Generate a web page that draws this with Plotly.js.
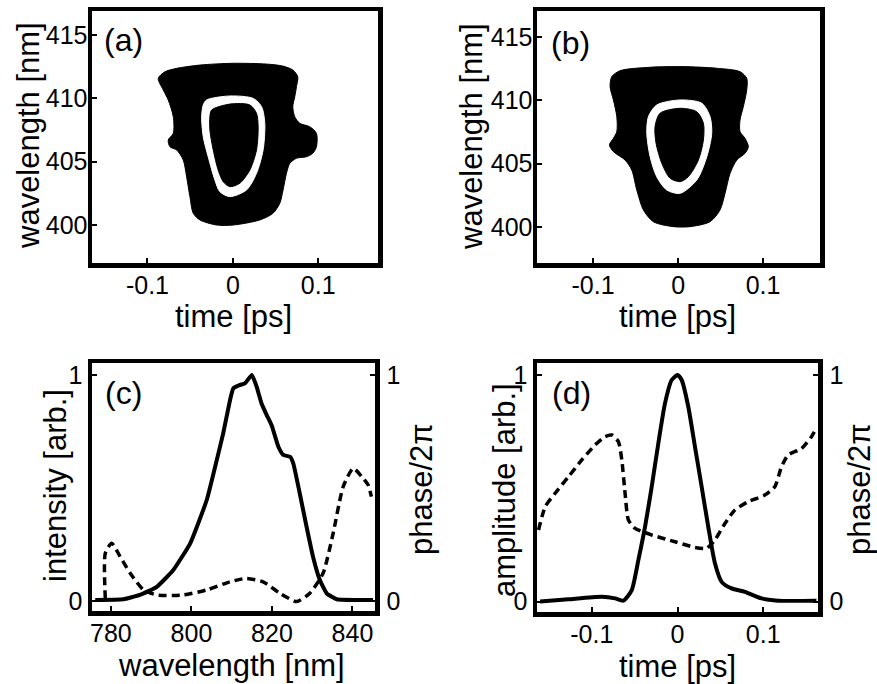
<!DOCTYPE html>
<html>
<head>
<meta charset="utf-8">
<script src="https://cdn.plot.ly/plotly-3.0.1.min.js"></script>
<style>
  html, body { margin: 0; padding: 0; background: #fff; }
  #fig { width: 877px; height: 684px; }
</style>
</head>
<body>
<div id="fig"></div>
<script>
// ---- (a) measured FROG trace: contour outlines (delay in ps, wavelength in nm) ----
const aOuterT  = [-0.0874,-0.0795,-0.0658,-0.0386,0.0,0.0394,0.0585,0.0702,0.0760,0.0745,0.0725,0.0702,0.0725,0.0784,0.0901,0.0979,0.0979,0.0936,0.0862,0.0745,0.0667,0.0628,0.0588,0.0550,0.0471,0.0316,0.0004,-0.0191,-0.0386,-0.0464,-0.0503,-0.0542,-0.0581,-0.0658,-0.0737,-0.0757,-0.0698,-0.0698,-0.0757,-0.0815];
const aOuterWl = [411.58,412.10,412.37,412.63,412.77,412.71,412.55,412.24,411.71,410.92,410.13,409.34,408.55,408.03,407.76,407.24,406.18,405.66,405.39,405.27,404.87,404.08,402.77,401.72,400.93,400.40,400.00,400.00,400.40,400.93,402.24,403.82,405.13,405.92,406.18,406.71,407.24,408.55,409.87,410.66];
const aRingT   = [-0.0308,-0.0035,0.0237,0.0336,0.0374,0.0354,0.0277,0.0160,-0.0035,-0.0152,-0.0211,-0.0289,-0.0347,-0.0366,-0.0347];
const aRingWl  = [409.87,410.19,410.00,409.34,408.03,405.92,404.08,402.77,402.24,402.63,403.56,405.39,406.97,408.55,409.48];
const aCoreT   = [-0.0249,-0.0035,0.0199,0.0277,0.0296,0.0277,0.0199,0.0082,-0.0035,-0.0113,-0.0172,-0.0230,-0.0269,-0.0269];
const aCoreWl  = [409.08,409.55,409.48,408.82,407.76,405.92,404.34,403.30,403.03,403.42,404.34,405.92,407.50,408.55];

// ---- (b) retrieved FROG trace ----
const bOuterT  = [-0.0780,-0.0682,-0.0329,0.0062,0.0455,0.0729,0.0808,0.0808,0.0768,0.0729,0.0729,0.0788,0.0827,0.0788,0.0691,0.0612,0.0553,0.0494,0.0376,0.0141,-0.0055,-0.0291,-0.0408,-0.0486,-0.0545,-0.0624,-0.0761,-0.0808,-0.0761,-0.0721,-0.0721,-0.0761,-0.0800];
const bOuterWl = [411.87,412.34,412.61,412.66,412.53,412.26,411.74,410.82,409.50,408.45,407.53,407.00,406.34,405.82,405.29,404.24,402.66,401.35,400.42,400.03,400.03,400.42,401.35,402.92,404.50,405.29,405.95,406.48,407.00,407.53,408.71,410.03,411.08];
const bRingT   = [-0.0251,0.0024,0.0279,0.0376,0.0396,0.0338,0.0220,0.0024,-0.0133,-0.0251,-0.0329,-0.0368,-0.0349];
const bRingWl  = [409.63,410.03,409.77,408.71,407.40,405.55,403.71,402.66,402.92,403.97,405.55,407.40,408.71];
const bCoreT   = [-0.0212,0.0024,0.0220,0.0298,0.0298,0.0239,0.0121,0.0024,-0.0094,-0.0192,-0.0259,-0.0271];
const bCoreWl  = [408.98,409.37,409.10,408.19,406.87,405.29,403.97,403.58,403.85,405.03,406.61,407.92];

// ---- (c) spectrum: intensity and spectral phase ----
const cIntWl   = [776.1,783.1,787.2,791.4,795.5,799.7,803.8,806.3,807.9,809.6,810.4,812.1,813.3,815.0,816.2,817.4,818.7,819.9,821.6,822.8,824.5,825.3,826.9,828.6,830.2,831.9,833.6,836.1,845.1];
const cInt     = [0.007,0.010,0.029,0.065,0.139,0.257,0.448,0.625,0.743,0.890,0.941,0.956,0.963,1.000,0.948,0.875,0.823,0.779,0.683,0.647,0.639,0.610,0.478,0.330,0.198,0.095,0.036,0.010,0.007];
const cPhWl    = [778.6,778.6,780.2,782.3,784.8,788.1,791.4,798.0,803.8,809.6,813.7,817.8,822.0,826.1,829.4,832.7,835.2,837.7,840.2,842.3,843.9,844.7];
const cPh      = [0.014,0.213,0.257,0.198,0.125,0.051,0.029,0.029,0.051,0.087,0.102,0.087,0.036,0.000,0.036,0.125,0.301,0.507,0.588,0.551,0.514,0.463];

// ---- (d) temporal amplitude and phase ----
const dAmpT    = [-0.1603,-0.1273,-0.0883,-0.0728,-0.0632,-0.0534,-0.0457,-0.0379,-0.0301,-0.0224,-0.0146,-0.0068,0.0,0.0049,0.0126,0.0204,0.0282,0.0359,0.0437,0.0515,0.0632,0.0787,0.0981,0.1175,0.1622];
const dAmp     = [0.000,0.010,0.021,0.014,0.004,0.051,0.183,0.330,0.507,0.698,0.875,0.978,1.000,0.978,0.860,0.683,0.507,0.330,0.169,0.087,0.058,0.043,0.014,0.004,0.004];
const dPhT     = [-0.1622,-0.1544,-0.1428,-0.1273,-0.1117,-0.0962,-0.0845,-0.0767,-0.0690,-0.0650,-0.0612,-0.0573,-0.0495,-0.0301,-0.0029,0.0204,0.0340,0.0437,0.0554,0.0670,0.0825,0.1020,0.1136,0.1214,0.1291,0.1448,0.1564,0.1622];
const dPh      = [0.316,0.419,0.478,0.551,0.625,0.691,0.728,0.735,0.706,0.625,0.478,0.360,0.323,0.294,0.264,0.239,0.235,0.272,0.345,0.404,0.441,0.470,0.507,0.595,0.647,0.676,0.728,0.765];

// tick labels
const timeTicks = [-0.1, 0, 0.1];
const timeTickText = ['-0.1', '0', '0.1'];
const frogWlTicks = [400, 405, 410, 415];
const specTicks = [780, 800, 820, 840];
const unitTicks = [0, 1];

const FONT = 'Liberation Sans, Arial, Helvetica, sans-serif';
const W = 877, H = 684;
const px = v => v / W;
const py = v => 1 - v / H;

// closed filled outline drawn as a smooth contour
function blob(t, wl, color, xa, ya) {
  return {
    x: t.concat([t[0]]), y: wl.concat([wl[0]]),
    xaxis: xa, yaxis: ya,
    type: 'scatter', mode: 'lines', fill: 'toself',
    fillcolor: color,
    line: { color: color, width: 1, shape: 'spline', smoothing: 0.8 },
    hoverinfo: 'skip'
  };
}

const traces = [
  blob(aOuterT, aOuterWl, '#000', 'x', 'y'),
  blob(aRingT, aRingWl, '#fff', 'x', 'y'),
  blob(aCoreT, aCoreWl, '#000', 'x', 'y'),
  blob(bOuterT, bOuterWl, '#000', 'x2', 'y2'),
  blob(bRingT, bRingWl, '#fff', 'x2', 'y2'),
  blob(bCoreT, bCoreWl, '#000', 'x2', 'y2'),
  { x: cIntWl, y: cInt, xaxis: 'x3', yaxis: 'y3', type: 'scatter', mode: 'lines',
    line: { color: '#000', width: 4, shape: 'spline', smoothing: 0.4 } },
  { x: cPhWl, y: cPh, xaxis: 'x3', yaxis: 'y5', type: 'scatter', mode: 'lines',
    line: { color: '#000', width: 3.5, dash: '8px,5px', shape: 'spline', smoothing: 0.6 } },
  { x: dAmpT, y: dAmp, xaxis: 'x4', yaxis: 'y4', type: 'scatter', mode: 'lines',
    line: { color: '#000', width: 4, shape: 'spline', smoothing: 0.6 } },
  { x: dPhT, y: dPh, xaxis: 'x4', yaxis: 'y6', type: 'scatter', mode: 'lines',
    line: { color: '#000', width: 3.5, dash: '8px,5px', shape: 'spline', smoothing: 0.6 } }
];

const tickFont = { family: FONT, size: 25, color: '#000' };
function ax(extra) {
  return Object.assign({
    showline: true, linecolor: '#000', linewidth: 4.5, mirror: true,
    ticks: 'inside', ticklen: 5, tickwidth: 2, tickcolor: '#000',
    showgrid: false, zeroline: false, tickfont: tickFont, fixedrange: true
  }, extra);
}

const layout = {
  width: W, height: H,
  margin: { l: 0, r: 0, t: 0, b: 0 },
  paper_bgcolor: '#fff', plot_bgcolor: '#fff',
  showlegend: false,
  font: { family: FONT, color: '#000' },

  // (a)
  xaxis: ax({ domain: [px(92), px(378)], anchor: 'y', range: [-0.165, 0.17],
    tickvals: timeTicks, ticktext: timeTickText, ticklabelstandoff: -4 }),
  yaxis: ax({ domain: [py(263), py(11)], anchor: 'x', range: [397.0, 416.9],
    tickvals: frogWlTicks, ticklabelstandoff: -5 }),
  // (b)
  xaxis2: ax({ domain: [px(537), px(820)], anchor: 'y2', range: [-0.166, 0.167],
    tickvals: timeTicks, ticktext: timeTickText, ticklabelstandoff: -4 }),
  yaxis2: ax({ domain: [py(263), py(11)], anchor: 'x2', range: [397.16, 417.05],
    tickvals: frogWlTicks, ticklabelstandoff: -5 }),
  // (c)
  xaxis3: ax({ domain: [px(92), px(375)], anchor: 'y3', range: [775.3, 845.6],
    tickvals: specTicks, ticklabelstandoff: -4 }),
  yaxis3: ax({ domain: [py(611), py(363)], anchor: 'x3', range: [-0.042, 1.053],
    tickvals: unitTicks, ticklabelstandoff: 0 }),
  yaxis5: ax({ overlaying: 'y3', anchor: 'x3', side: 'right', range: [-0.042, 1.053],
    tickvals: unitTicks, ticklabelstandoff: 2, mirror: false }),
  // (d)
  xaxis4: ax({ domain: [px(537), px(818)], anchor: 'y4', range: [-0.164, 0.164],
    tickvals: timeTicks, ticktext: timeTickText, ticklabelstandoff: -4 }),
  yaxis4: ax({ domain: [py(612), py(363)], anchor: 'x4', range: [-0.046, 1.053],
    tickvals: unitTicks, ticklabelstandoff: 0 }),
  yaxis6: ax({ overlaying: 'y4', anchor: 'x4', side: 'right', range: [-0.046, 1.053],
    tickvals: unitTicks, ticklabelstandoff: 2, mirror: false }),

  annotations: []
};

// axis titles and panel letters
const titleFont = { family: FONT, size: 31, color: '#000' };
const panelFont = { family: FONT, size: 32, color: '#000' };
function label(text, x, y, fontObj, angle) {
  layout.annotations.push({
    text: text, xref: 'paper', yref: 'paper', x: px(x), y: py(y),
    xanchor: 'center', yanchor: 'middle', showarrow: false,
    font: fontObj, textangle: angle || 0
  });
}
label('wavelength [nm]', 28, 136, titleFont, -90);
label('time [ps]', 233, 316, titleFont);
label('wavelength [nm]', 471, 137, titleFont, -90);
label('time [ps]', 677, 316, titleFont);
label('intensity [arb.]', 55, 486, titleFont, -90);
label('phase/2π', 421, 489, titleFont, -90);
label('wavelength [nm]', 231, 665, titleFont);
label('amplitude [arb.]', 504, 490, titleFont, -90);
label('phase/2π', 859, 489, titleFont, -90);
label('time [ps]', 677, 666, titleFont);
label('(a)', 124, 40, panelFont);
label('(b)', 570, 43, panelFont);
label('(c)', 123, 393, panelFont);
label('(d)', 571, 393, panelFont);

Plotly.newPlot('fig', traces, layout, { staticPlot: true, displayModeBar: false });
</script>
</body>
</html>
